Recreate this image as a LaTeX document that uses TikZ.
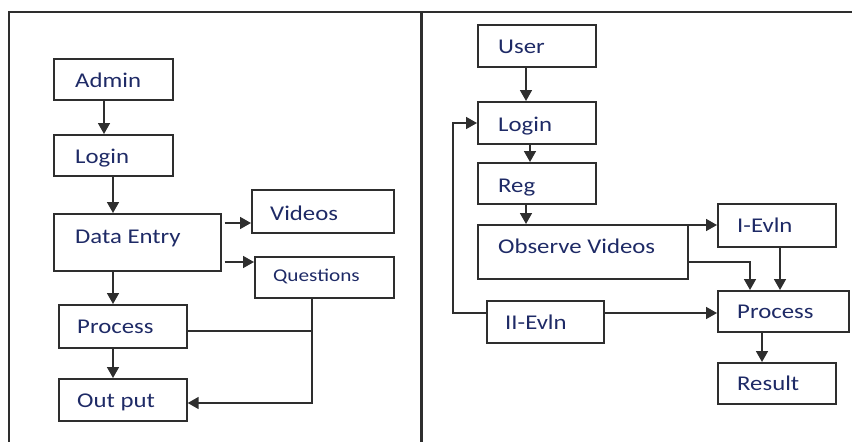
\documentclass[tikz,border=0pt]{standalone}
\usepackage{fontspec}
\setmainfont{Carlito}[FakeStretch=1.18]
\usetikzlibrary{arrows.meta}
\definecolor{txtc}{HTML}{1E2A66}
\definecolor{linec}{HTML}{2E2E2E}
\begin{document}
\begin{tikzpicture}[x=1pt,y=-1pt,
 box/.style={draw=linec, line width=1.7pt, rectangle, inner sep=0pt, anchor=north west},
 lbl/.style={anchor=base west, inner sep=0pt, text=txtc, font=\fontsize{21}{24}\selectfont},
 small/.style={lbl, font=\fontsize{18}{20}\selectfont},
 conn/.style={draw=linec, line width=1.7pt, -{Triangle[length=11pt,width=12pt]}},
 wire/.style={draw=linec, line width=1.7pt}]
\useasboundingbox (0,0) rectangle (852,442);
% frame
\draw[linec, line width=1.4pt] (9,442) -- (9,12) -- (852,12);
\draw[linec, line width=2.2pt] (421.5,12) -- (421.5,442);

% left boxes
\node[box, minimum width=119pt, minimum height=41pt] (admin) at (53,58) {};
\node[box, minimum width=119pt, minimum height=41pt] (login) at (53,134) {};
\node[box, minimum width=167pt, minimum height=57pt] (dentry) at (53,213) {};
\node[box, minimum width=142pt, minimum height=43pt] (videos) at (251,189) {};
\node[box, minimum width=139pt, minimum height=41pt] (questions) at (254,256) {};
\node[box, minimum width=128pt, minimum height=43pt] (lprocess) at (58,304) {};
\node[box, minimum width=128pt, minimum height=42pt] (output) at (58,378) {};
% left labels
\node[lbl] (tadmin) at (75,87) {Admin};
\node[lbl] (tlogin) at (75,163) {Login};
\node[lbl] (tdentry) at (75,243) {Data Entry};
\node[lbl] (tvideos) at (270,220) {Videos};
\node[small] (tquestions) at (273,281) {Questions};
\node[lbl] (tlprocess) at (77,333) {Process};
\node[lbl] (toutput) at (77,407) {Out put};

% right boxes
\node[box, minimum width=118pt, minimum height=42pt] (user) at (477,24) {};
\node[box, minimum width=118pt, minimum height=42pt] (rlogin) at (477,101) {};
\node[box, minimum width=118pt, minimum height=41pt] (reg) at (477,162) {};
\node[box, minimum width=210pt, minimum height=54pt] (observe) at (477,224) {};
\node[box, minimum width=118pt, minimum height=43pt] (ievln) at (717,203) {};
\node[box, minimum width=131pt, minimum height=41pt] (rprocess) at (717,290) {};
\node[box, minimum width=117pt, minimum height=42pt] (iievln) at (486,300) {};
\node[box, minimum width=118pt, minimum height=41pt] (result) at (717,362) {};
% right labels
\node[lbl] (tuser) at (498,53) {User};
\node[lbl] (trlogin) at (498,131) {Login};
\node[lbl] (treg) at (498,192) {Reg};
\node[lbl] (tobserve) at (498,253) {Observe Videos};
\node[lbl] (tievln) at (737,232) {I-Evln};
\node[lbl] (trprocess) at (737,318) {Process};
\node[lbl] (tiievln) at (505,329) {II-Evln};
\node[lbl] (tresult) at (737,390) {Result};

% left connectors
\draw[conn] ([xshift=51pt]admin.south west) -- ([xshift=51pt]login.north west);
\draw[conn] ([xshift=60pt]login.south west) -- ([xshift=60pt]dentry.north west);
\coordinate (dv) at ([yshift=-10pt]dentry.north east);
\draw[conn, shorten <=3pt] (dv) -- (dv -| videos.west);
\coordinate (dq) at ([yshift=-49pt]dentry.north east);
\draw[conn, shorten <=3pt] (dq) -- (dq -| questions.west);
\draw[conn] ([xshift=60pt]dentry.south west) -- ([xshift=55pt]lprocess.north west);
\draw[conn] ([xshift=55pt]lprocess.south west) -- ([xshift=55pt]output.north west);
\coordinate (qb) at ([xshift=58pt]questions.south west);
\coordinate (ob) at ([yshift=-25pt]output.north east);
\draw[conn] (qb) |- (ob);
\coordinate (pr) at ([yshift=-27pt]lprocess.north east);
\draw[wire] (pr) -- (pr -| qb);

% right connectors
\draw[conn] ([xshift=49pt]user.south west) -- ([xshift=49pt]rlogin.north west);
\draw[conn] ([xshift=53pt]rlogin.south west) -- ([xshift=53pt]reg.north west);
\draw[conn] ([xshift=49pt]reg.south west) -- ([xshift=49pt]observe.north west);
\coordinate (oi) at ([yshift=-1pt]observe.north east);
\draw[conn] (oi) -- (oi -| ievln.west);
\coordinate (op) at ([yshift=-38pt]observe.north east);
\coordinate (pt1) at ([xshift=33pt]rprocess.north west);
\draw[conn] (op) -| (pt1);
\draw[conn] ([xshift=63pt]ievln.south west) -- ([xshift=63pt]rprocess.north west);
\coordinate (ip) at ([yshift=-13pt]iievln.north east);
\draw[conn] (ip) -- (ip -| rprocess.west);
\coordinate (il) at ([yshift=-13pt]iievln.north west);
\coordinate (lg) at ([yshift=-22pt]rlogin.north west);
\coordinate (loopx) at (453,0);
\draw[conn] (il) -| (loopx |- lg) -- (lg);
\draw[conn] ([xshift=45pt]rprocess.south west) -- ([xshift=45pt]result.north west);
\end{tikzpicture}
\end{document}
